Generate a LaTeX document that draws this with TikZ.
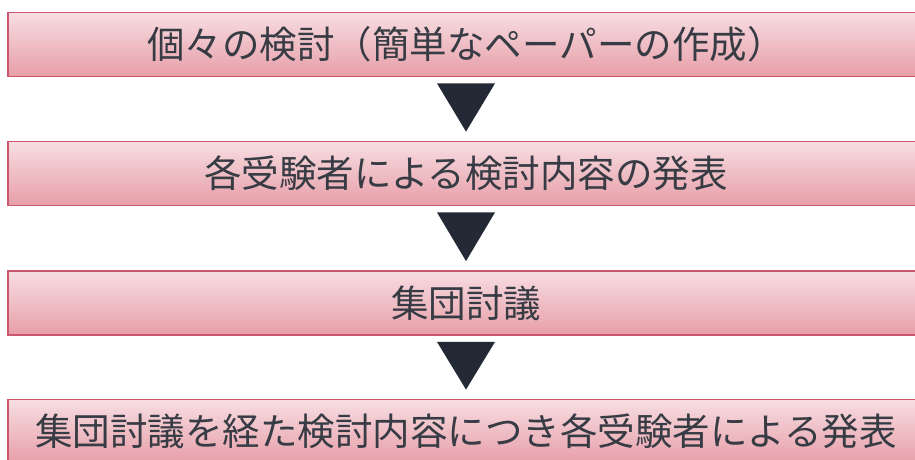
\documentclass[tikz,border=0pt]{standalone}
\usepackage{fontspec}
\setmainfont{Noto Sans CJK JP}
\usepackage{tikz}
\usetikzlibrary{calc,positioning}
\usepackage{xcolor}
\definecolor{boxtop}{RGB}{247,221,226}
\definecolor{boxbot}{RGB}{231,158,168}
\definecolor{boxline}{RGB}{201,88,110}
\definecolor{tritone}{RGB}{35,42,53}
\definecolor{txtgray}{RGB}{55,59,67}
\tikzstyle{stepbox} = [draw=boxline, line width=1.8pt, top color=boxtop, bottom color=boxbot,
  minimum width=916pt, minimum height=64pt, inner sep=0pt, text=txtgray,
  font=\fontsize{37.5}{40}\selectfont]
\tikzstyle{downtri} = [fill=tritone]

\begin{document}
\begin{tikzpicture}[x=1pt, y=-1pt]
\useasboundingbox (0,0) rectangle (915,459);
% Steps
\node[stepbox] (b1) at (466,44.5) {個々の検討（簡単なペーパーの作成）};
\node[stepbox] (b2) at (466,173.5) {各受験者による検討内容の発表};
\node[stepbox] (b3) at (466,303) {集団討議};
\node[stepbox] (b4) at (466,431.5) {集団討議を経た検討内容につき各受験者による発表};

% Arrows between steps
\foreach \a/\b in {b1/b2, b2/b3, b3/b4}
  \fill[downtri] ($(\a.south)+(-29,6)$) -- ($(\a.south)+(29,6)$) -- ($(\b.north)+(0,-9)$) -- cycle;
\end{tikzpicture}
\end{document}
